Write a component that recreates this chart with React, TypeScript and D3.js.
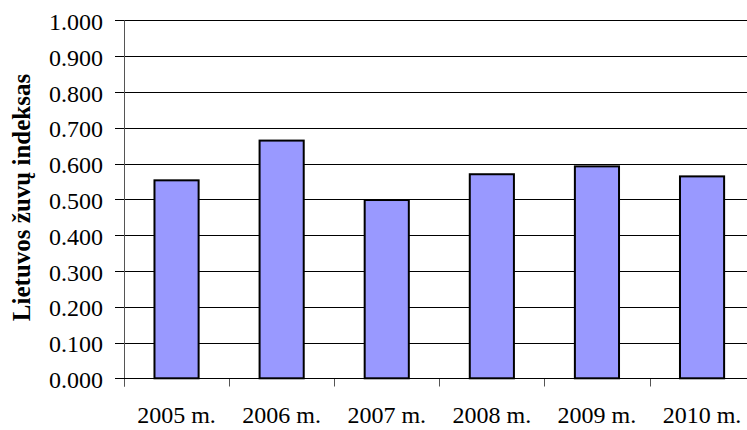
import React from "react";
import * as d3 from "d3";

const categories = ["2005 m.", "2006 m.", "2007 m.", "2008 m.", "2009 m.", "2010 m."];
const values = [0.553, 0.664, 0.498, 0.57, 0.592, 0.564];
const yTicks = [0, 0.1, 0.2, 0.3, 0.4, 0.5, 0.6, 0.7, 0.8, 0.9, 1.0];
const yTitle = "Lietuvos žuvų indeksas";

const W = 747;
const H = 430;
const left = 124;
const right = 754.6;
const top = 20.3;
const bottom = 378.3;
const font = "'Liberation Serif', 'Times New Roman', serif";

const labelStyle: React.CSSProperties = { fontFamily: font, fontSize: "24px" };
const titleStyle: React.CSSProperties = { fontFamily: font, fontSize: "25px", fontWeight: "bold" };

export default function App() {
  const x = d3.scaleBand<string>().domain(categories).range([left, right]).padding(0);
  const y = d3.scaleLinear().domain([0, 1]).range([bottom, top]);
  const barW = x.bandwidth() * 0.42;
  const fmt = d3.format(".3f");

  return (
    <svg
      width={W}
      height={H}
      style={{ position: "absolute", left: 0, top: 0, background: "#fff" }}
    >
      {/* horizontal gridlines with left tick stubs */}
      {yTicks.map((t) => (
        <g key={t}>
          <line x1={115} x2={W} y1={Math.round(y(t)) + 0.5} y2={Math.round(y(t)) + 0.5} stroke="#000" strokeWidth={1} />
          <text x={103} y={y(t) + 9.7} textAnchor="end" style={labelStyle} fill="#000">
            {fmt(t)}
          </text>
        </g>
      ))}

      {/* bars */}
      {categories.map((c, i) => {
        const cx = (x(c) as number) + x.bandwidth() / 2;
        return (
          <rect
            key={c}
            x={cx - barW / 2}
            y={y(values[i])}
            width={barW}
            height={bottom - y(values[i])}
            fill="#9999FF"
            stroke="#000"
            strokeWidth={2}
          />
        );
      })}

      {/* y axis */}
      <line x1={left + 0.5} x2={left + 0.5} y1={top} y2={386.5} stroke="#555" strokeWidth={1} />
      {/* x axis ticks */}
      {d3.range(categories.length + 1).map((i) => {
        const xx = Math.round(left + i * x.step()) + 0.5;
        return <line key={i} x1={xx} x2={xx} y1={bottom} y2={386.5} stroke="#555" strokeWidth={1} />;
      })}
      <line x1={left} x2={W} y1={Math.round(bottom) + 0.5} y2={Math.round(bottom) + 0.5} stroke="#000" strokeWidth={1} />

      {/* category labels */}
      {categories.map((c) => (
        <text
          key={c}
          x={(x(c) as number) + x.bandwidth() / 2}
          y={423}
          textAnchor="middle"
          style={labelStyle}
          fill="#000"
        >
          {c}
        </text>
      ))}

      {/* y axis title */}
      <text
        transform={`translate(30, 197.5) rotate(-90)`}
        textAnchor="middle"
        style={titleStyle}
        fill="#000"
      >
        {yTitle}
      </text>
    </svg>
  );
}
